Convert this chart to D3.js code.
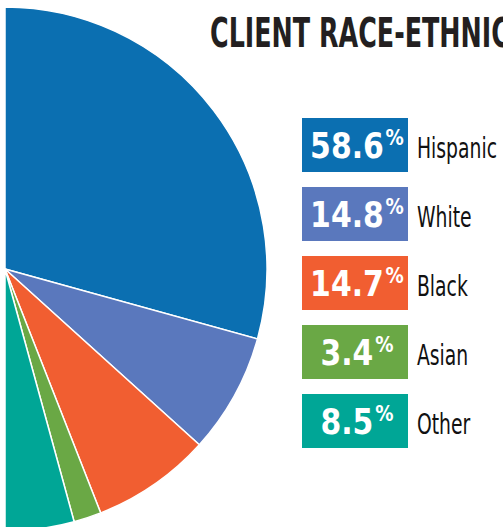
<html><head>
<script src="https://cdn.jsdelivr.net/npm/d3@7"></script>
<style>
  body { margin: 0; background: #fff; overflow: hidden; }
</style>
</head><body>
<div id="chart"></div>
<script>
// data
const groups = ["Hispanic", "White", "Black", "Asian", "Other"];
const shares = [58.6, 14.8, 14.7, 3.4, 8.5];
const colors = ["#0b6fb1", "#5a78bd", "#f15e31", "#6aa845", "#00a696"];
const title = "CLIENT RACE-ETHNICITY";

const width = 503, height = 527;
const narrow = "'Liberation Sans Narrow', 'DejaVu Sans Condensed', 'DejaVu Sans', sans-serif";

let svg = d3.select("#chart").append("svg")
    .attr("width", width)
    .attr("height", height);

// half pie, right side only
const cx = 5, cy = 269, radius = 262;
let pie = d3.pie().sort(null).startAngle(0).endAngle(Math.PI);
let arc = d3.arc().innerRadius(0).outerRadius(radius);

let pieG = svg.append("g").attr("transform", "translate(" + cx + "," + cy + ")");
pieG.selectAll("path")
    .data(pie(shares))
    .join("path")
    .attr("d", arc)
    .attr("fill", (d, i) => colors[i])
    .attr("stroke", "#fff")
    .attr("stroke-width", 1.5);

// title (runs off the right edge like the original)
let titleText = svg.append("text")
    .attr("font-family", narrow)
    .attr("font-weight", "bold")
    .attr("font-size", 40)
    .attr("fill", "#231f20")
    .text(title);
// squeeze so "CLIENT RACE-ETHNIC" spans ~300px
const partLen = titleText.node().getSubStringLength(0, 18);
titleText.attr("transform", "translate(210,47) scale(" + (300 / partLen) + ",1)");

// legend
let yScale = d3.scaleBand().domain(groups)
    .range([118, 118 + 69 * 4 + 54])
    .paddingInner(15 / 69).paddingOuter(0);

let rows = svg.append("g").selectAll("g")
    .data(groups)
    .join("g")
    .attr("transform", d => "translate(302," + yScale(d) + ")");

rows.append("rect")
    .attr("width", 106)
    .attr("height", yScale.bandwidth())
    .attr("fill", (d, i) => colors[i]);

let pct = rows.append("text")
    .attr("text-anchor", "middle")
    .attr("font-family", narrow)
    .attr("font-weight", "bold")
    .attr("font-size", 36)
    .attr("fill", "#fff")
    .each(function(d, i) {
        let t = d3.select(this);
        t.append("tspan").text(shares[i].toFixed(1));
        t.append("tspan").attr("font-size", 22).attr("dy", -13).attr("dx", 2).text("%");
    });
// condense: "58.6%" should be about 92px wide
const pctScale = 92 / pct.nodes()[0].getComputedTextLength();
pct.attr("transform", "translate(55,40) scale(" + pctScale + ",1)");

let labels = rows.append("text")
    .attr("font-family", narrow)
    .attr("font-size", 29)
    .attr("fill", "#111")
    .text(d => d);
// "Hispanic" should be about 80px wide
const labScale = 80 / labels.nodes()[0].getComputedTextLength();
labels.attr("transform", "translate(115,40) scale(" + labScale + ",1)");
</script>
</body></html>
